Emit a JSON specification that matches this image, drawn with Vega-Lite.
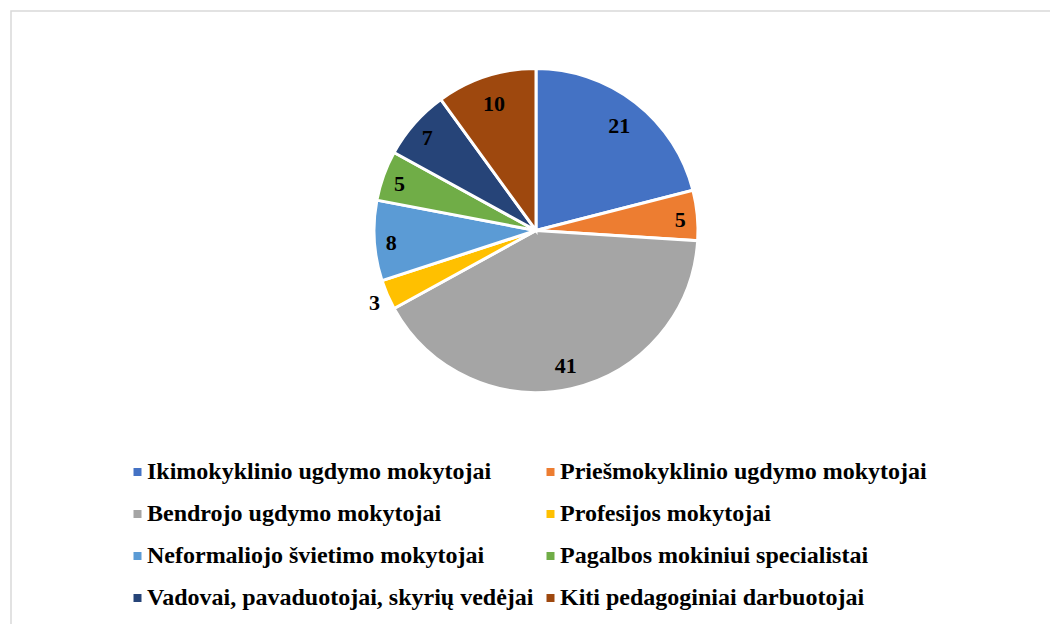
{
  "$schema": "https://vega.github.io/schema/vega-lite/v6.json",
  "width": 1045,
  "height": 619,
  "autosize": {"type": "none"},
  "padding": {"left": 11, "top": 11, "right": -6, "bottom": -6},
  "background": "white",
  "view": {"stroke": "#d9d9d9", "strokeWidth": 1.5},
  "config": {
    "view": {"stroke": "#d9d9d9", "strokeWidth": 1.5},
    "font": "Liberation Serif"
  },
  "data": {
    "values": [
      {"category": "Ikimokyklinio ugdymo mokytojai", "value": 21, "order": 1},
      {"category": "Priešmokyklinio ugdymo mokytojai", "value": 5, "order": 2},
      {"category": "Bendrojo ugdymo mokytojai", "value": 41, "order": 3},
      {"category": "Profesijos mokytojai", "value": 3, "order": 4},
      {"category": "Neformaliojo švietimo mokytojai", "value": 8, "order": 5},
      {"category": "Pagalbos mokiniui specialistai", "value": 5, "order": 6},
      {"category": "Vadovai, pavaduotojai, skyrių vedėjai", "value": 7, "order": 7},
      {"category": "Kiti pedagoginiai darbuotojai", "value": 10, "order": 8}
    ]
  },
  "encoding": {
    "theta": {"field": "value", "type": "quantitative", "stack": true},
    "order": {"field": "order", "type": "quantitative"}
  },
  "layer": [
    {
      "mark": {"type": "arc", "outerRadius": 162, "x": 525, "y": 219.5, "stroke": "white", "strokeWidth": 3},
      "encoding": {
        "color": {
          "field": "category",
          "type": "nominal",
          "sort": null,
          "scale": {
            "domain": [
              "Ikimokyklinio ugdymo mokytojai",
              "Priešmokyklinio ugdymo mokytojai",
              "Bendrojo ugdymo mokytojai",
              "Profesijos mokytojai",
              "Neformaliojo švietimo mokytojai",
              "Pagalbos mokiniui specialistai",
              "Vadovai, pavaduotojai, skyrių vedėjai",
              "Kiti pedagoginiai darbuotojai"
            ],
            "range": ["#4472C4", "#ED7D31", "#A5A5A5", "#FFC000", "#5B9BD5", "#70AD47", "#264478", "#9E480E"]
          },
          "legend": {
            "title": null,
            "orient": "none",
            "direction": "horizontal",
            "legendX": 114.5,
            "legendY": 449,
            "columns": 2,
            "columnPadding": 4,
            "rowPadding": 18,
            "padding": 0,
            "symbolType": "square",
            "symbolSize": 64,
            "symbolOffset": 0,
            "symbolStrokeWidth": 0,
            "labelFont": "Liberation Serif",
            "labelFontWeight": "bold",
            "labelFontSize": 24,
            "labelColor": "black",
            "labelLimit": 0,
            "labelOffset": -2.5
          }
        }
      }
    },
    {
      "mark": {
        "type": "text",
        "x": 525,
        "y": 219.5,
        "dy": 3,
        "radius": {"expr": "datum.value < 4 ? 176 : datum.value < 9 ? 145 : 136"},
        "font": "Liberation Serif",
        "fontWeight": "bold",
        "fontSize": 22,
        "color": "black",
        "align": "center",
        "baseline": "middle"
      },
      "encoding": {
        "text": {"field": "value", "type": "quantitative"}
      }
    }
  ]
}
